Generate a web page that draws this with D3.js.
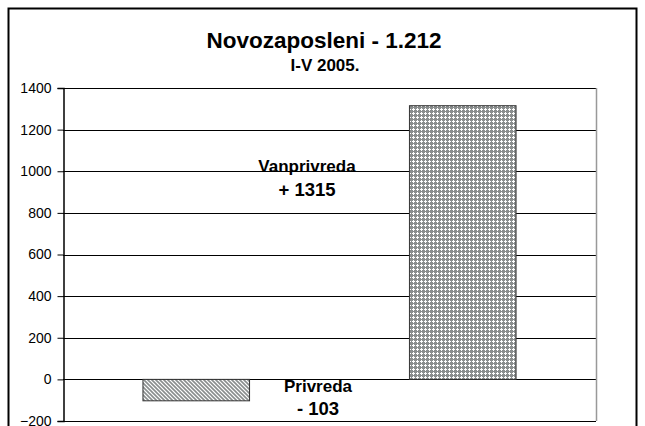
<!DOCTYPE html>
<html><head><meta charset="utf-8">
<script src="https://cdn.jsdelivr.net/npm/d3@7"></script>
<style>body{margin:0;background:#fff}svg{display:block}text{font-family:Arial,"Liberation Sans",sans-serif}</style>
</head><body>
<svg id="c" width="645" height="426"></svg>
<script>
const categories = ["Privreda", "Vanprivreda"];
const values = [-103, 1315];
const labelLines = [["Privreda", "- 103"], ["Vanprivreda", "+ 1315"]];
const yTicks = [-200, 0, 200, 400, 600, 800, 1000, 1200, 1400];
const title = "Novozaposleni - 1.212";
const subtitle = "I-V 2005.";

const svg = d3.select("#c");
const m = {l: 63, r: 596, t: 88, b: 421};
const x = d3.scaleBand().domain(categories).range([m.l, m.r]).paddingInner(0.6).paddingOuter(0.3);
const y = d3.scaleLinear().domain([-200, 1400]).range([m.b, m.t]);

const defs = svg.append("defs");
const p1 = defs.append("pattern").attr("id","diag").attr("patternUnits","userSpaceOnUse")
  .attr("width",4).attr("height",4);
p1.append("rect").attr("width",4).attr("height",4).attr("fill","#fff");
p1.append("path").attr("d","M-1,-1 L5,5 M-1,3 L1,5 M3,-1 L5,1").attr("stroke","#8a8e8e").attr("stroke-width",1.6);
const p2 = defs.append("pattern").attr("id","dots").attr("patternUnits","userSpaceOnUse")
  .attr("width",4).attr("height",4);
p2.append("rect").attr("width",4).attr("height",4).attr("fill","#8a8e8e");
p2.append("rect").attr("x",1).attr("y",0).attr("width",1).attr("height",3).attr("fill","#fff");
p2.append("rect").attr("x",0).attr("y",1).attr("width",3).attr("height",1).attr("fill","#fff");

// outer border
svg.append("rect").attr("x",8.5).attr("y",8.5).attr("width",628).attr("height",430)
  .attr("fill","none").attr("stroke","#000").attr("stroke-width",2);

// gridlines
svg.append("g").selectAll("line").data(yTicks).join("line")
  .attr("x1",m.l).attr("x2",m.r).attr("y1",d=>Math.round(y(d))+0.5).attr("y2",d=>Math.round(y(d))+0.5)
  .attr("stroke","#000").attr("stroke-width",1);
// plot right border
svg.append("line").attr("x1",m.r+0.5).attr("x2",m.r+0.5).attr("y1",m.t).attr("y2",m.b)
  .attr("stroke","#999").attr("stroke-width",1.5);

// bars
svg.append("g").selectAll("rect").data(values).join("rect")
  .attr("x",(d,i)=>x(categories[i])).attr("width",x.bandwidth())
  .attr("y",d=>y(Math.max(0,d))).attr("height",d=>Math.abs(y(d)-y(0)))
  .attr("fill",(d,i)=>i===0?"url(#diag)":"url(#dots)")
  .attr("stroke","#333").attr("stroke-width",1);

// y axis
const ax = svg.append("g").attr("transform",`translate(${m.l+0.5},0)`)
  .call(d3.axisLeft(y).tickValues(yTicks).tickSize(6).tickPadding(6).tickFormat(d3.format("d")));
ax.selectAll("path.domain").attr("stroke","#000").attr("stroke-width",1.5);
ax.selectAll("text").attr("font-size",14).attr("fill","#000").attr("font-family","Arial,'Liberation Sans',sans-serif");
ax.selectAll(".tick line").attr("stroke","#000");

// labels
const lblX = [318, 307];
const lblVals = [[-60, -170], [996, 880]];
labelLines.forEach((lines,i)=>{
  lines.forEach((t,j)=>{
    svg.append("text").attr("x",lblX[i]).attr("y",y(lblVals[i][j])).attr("text-anchor","middle")
      .attr("font-size",j===0?17:18.5).attr("font-weight","bold").text(t);
  });
});

// title
svg.append("text").attr("x",324).attr("y",48).attr("text-anchor","middle")
  .attr("font-size",22.5).attr("font-weight","bold").text(title);
svg.append("text").attr("x",325).attr("y",71).attr("text-anchor","middle")
  .attr("font-size",17).attr("font-weight","bold").text(subtitle);
</script>
</body></html>
